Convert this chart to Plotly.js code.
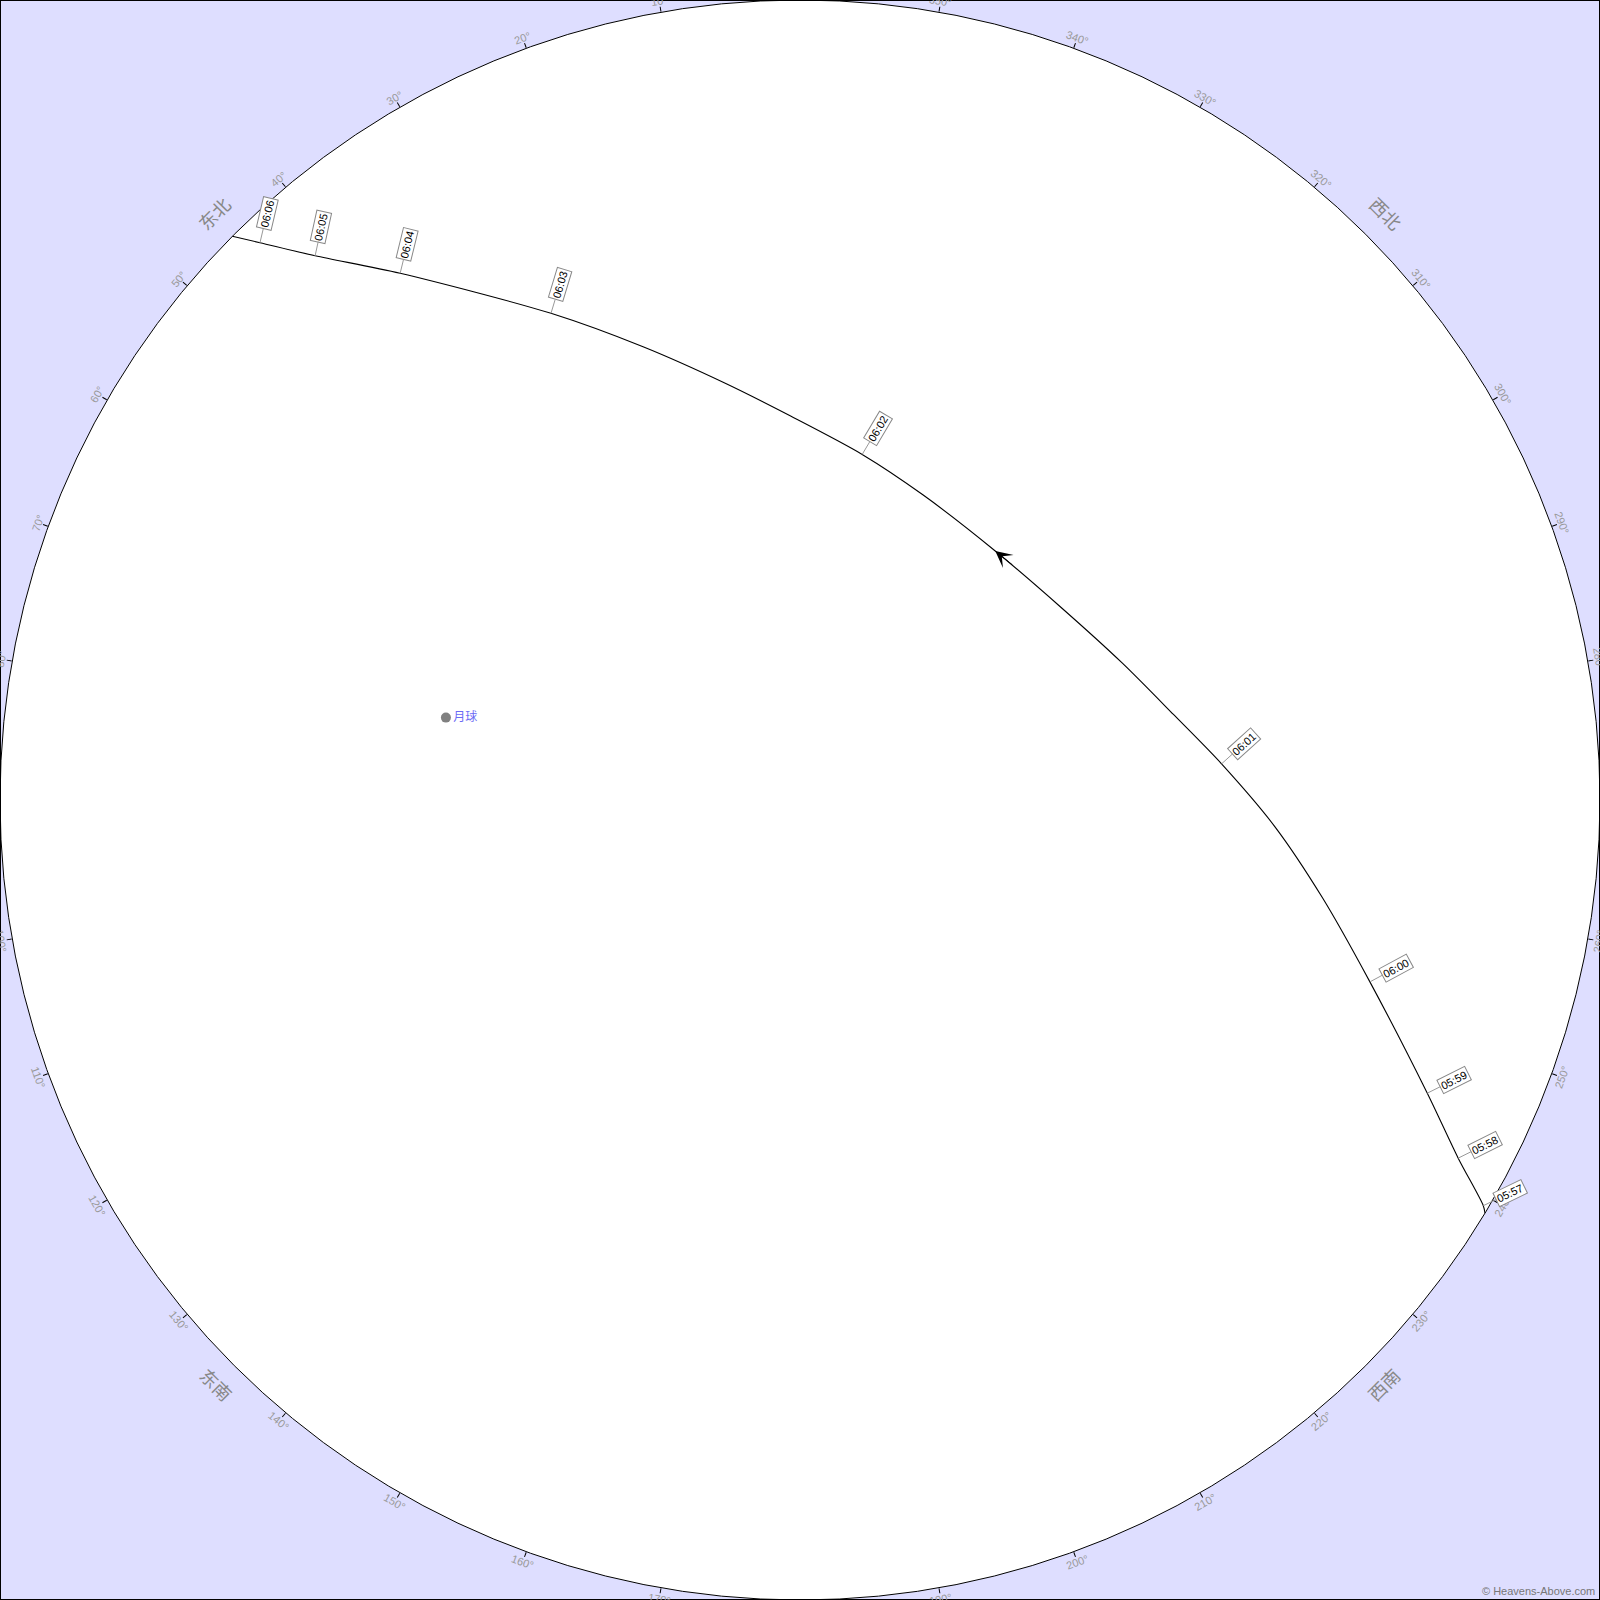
<!DOCTYPE html>
<html><head><meta charset="utf-8">
<script src="https://cdn.plot.ly/plotly-3.0.1.min.js"></script>
<style>html,body{margin:0;padding:0;background:#dedeff}#chart{width:1600px;height:1600px}</style>
</head><body><div id="chart"></div>
<script>
// Satellite pass track (azimuth in degrees, altitude in degrees)
const pathAz  = [238.9, 239.3, 241.45, 244.95, 252.3, 259.4, 266.8, 274.9, 282.9, 293.0, 306.4, 321.9, 338.0, 349.8, 1.4, 10.3, 19.1, 27.1, 37.2, 41.7, 44.1, 45.2];
const pathAlt = [0, 0.6, 5.7, 12.1, 22.7, 30.2, 36.5, 42.4, 46.9, 50.6, 53.5, 54.4, 53.0, 50.5, 46.8, 42.3, 36.05, 28.5, 15.6, 8.0, 2.7, 0];
const pathTime = ['', '05:57', '05:58', '05:59', '06:00', '', '', '06:01', '', '', '', '', '', '06:02', '', '', '', '06:03', '06:04', '06:05', '06:06', ''];
const arrowIndex = 11;

// Moon
const moonAz = [76.9];
const moonAlt = [49.1];
const moonName = ['月球'];

// Azimuth tick labels
const tickAz = [0,10,20,30,40,50,60,70,80,90,100,110,120,130,140,150,160,170,180,190,200,210,220,230,240,250,260,270,280,290,300,310,320,330,340,350];
const tickLabels = tickAz.map(a => a + '°');

// Compass directions
const compassAz = [0, 45, 90, 135, 180, 225, 270, 315];
const compassNames = ['北', '东北', '东', '东南', '南', '西南', '西', '西北'];

const FONT = 'Liberation Sans, Arial, Noto Sans CJK SC, sans-serif';
const W = 1600;

function toPaper(az, zd) {
  const a = az * Math.PI / 180;
  return [0.5 - zd * Math.sin(a) / 180, 0.5 + zd * Math.cos(a) / 180];
}
function readable(a) {
  a = ((a % 360) + 360) % 360;
  if (a > 180) a -= 360;
  if (a > 90) a -= 180;
  if (a < -90) a += 180;
  return a;
}

const annotations = [];

// degree labels
tickAz.forEach((az, i) => {
  const p = toPaper(az, 91.25);
  annotations.push({xref:'paper', yref:'paper', x:p[0], y:p[1], xanchor:'center', yanchor:'middle',
    text: tickLabels[i], showarrow:false, textangle: readable(-az),
    font:{family:FONT, size:11, color:'#999999'}});
});
// compass labels
compassAz.forEach((az, i) => {
  const p = toPaper(az, 93.15);
  annotations.push({xref:'paper', yref:'paper', x:p[0], y:p[1], xanchor:'center', yanchor:'middle',
    text: compassNames[i], showarrow:false, textangle: readable(-az),
    font:{family:FONT, size:18, color:'#888888'}});
});

function px(i) {
  const p = toPaper(pathAz[i], 90 - pathAlt[i]);
  return [p[0] * W, p[1] * W];
}

// time labels
pathTime.forEach((t, i) => {
  if (!t) return;
  const p = px(i), a = px(i - 1), b = px(i + 1);
  let tx = b[0] - a[0], ty = b[1] - a[1];
  const L = Math.hypot(tx, ty); tx /= L; ty /= L;
  let nx = -ty, ny = tx;
  const cx = p[0] - W / 2, cy = p[1] - W / 2;
  if (nx * cx + ny * cy < 0) { nx = -nx; ny = -ny; }
  const off = 30;
  const pp = toPaper(pathAz[i], 90 - pathAlt[i]);
  annotations.push({xref:'paper', yref:'paper', x:pp[0], y:pp[1],
    ax: nx * off, ay: -ny * off, axref:'pixel', ayref:'pixel',
    text: t, textangle: readable(Math.atan2(-ny, nx) * 180 / Math.PI),
    showarrow:true, arrowhead:0, arrowwidth:1, arrowcolor:'#999999',
    bordercolor:'#888888', borderwidth:1, borderpad:1, bgcolor:'#ffffff',
    font:{family:FONT, size:11, color:'#000000'}});
});

// direction arrow
(function () {
  const i = arrowIndex;
  const a = px(i - 1), b = px(i + 1);
  let tx = b[0] - a[0], ty = b[1] - a[1];
  const L = Math.hypot(tx, ty); tx /= L; ty /= L;
  const pp = toPaper(pathAz[i], 90 - pathAlt[i]);
  annotations.push({xref:'paper', yref:'paper', x:pp[0], y:pp[1],
    ax: -tx * 24, ay: ty * 24, axref:'pixel', ayref:'pixel', text:'',
    showarrow:true, arrowhead:3, arrowsize:2.8, arrowwidth:1, arrowcolor:'#000000'});
})();

// copyright
annotations.push({xref:'paper', yref:'paper', x:1, y:0, xanchor:'right', yanchor:'bottom',
  xshift:-3, yshift:1, text:'© Heavens-Above.com', showarrow:false,
  font:{family:FONT, size:11, color:'#777777'}});

const traces = [
  {type:'scatterpolar', mode:'lines', r: pathAlt.map(a => 90 - a), theta: pathAz,
   line:{color:'#000000', width:1.1, shape:'spline', smoothing:0.8}, hoverinfo:'skip'},
  {type:'scatterpolar', mode:'markers+text', r: moonAlt.map(a => 90 - a), theta: moonAz,
   text: moonName, textposition:'middle right',
   marker:{size:10, color:'#808080'},
   textfont:{family:FONT, size:12, color:'#6b6bf5'}, hoverinfo:'skip'}
];

const layout = {
  width: 1600, height: 1600, autosize:false,
  margin:{l:0, r:0, t:0, b:0, pad:0},
  paper_bgcolor:'#dedeff',
  showlegend:false,
  polar:{
    domain:{x:[0,1], y:[0,1]},
    bgcolor:'#ffffff',
    radialaxis:{range:[0,90], visible:false},
    angularaxis:{rotation:90, direction:'counterclockwise', tickmode:'linear', tick0:0, dtick:10,
      ticks:'outside', ticklen:5, tickcolor:'#000000', tickwidth:1,
      showticklabels:false, showgrid:false, showline:true, linecolor:'#000000', linewidth:1}
  },
  annotations: annotations,
  shapes:[{type:'rect', xref:'paper', yref:'paper', x0:0, x1:1, y0:0, y1:1,
    line:{color:'#000000', width:2}, layer:'above'}]
};

Plotly.newPlot('chart', traces, layout, {staticPlot:true, displayModeBar:false});
</script>
</body></html>
